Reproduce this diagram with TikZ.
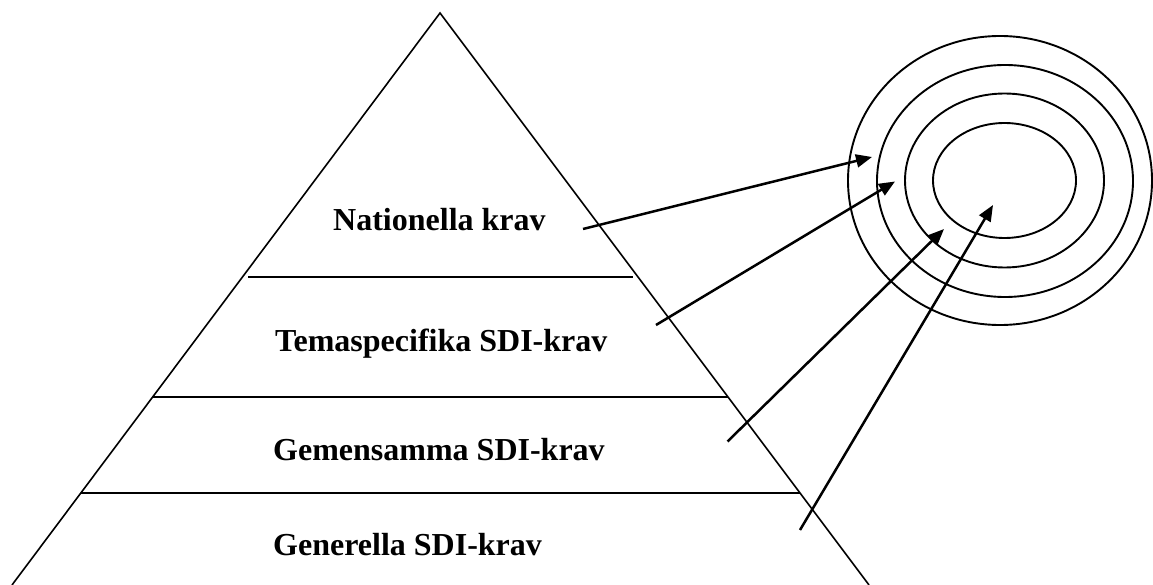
\documentclass[tikz,border=0pt]{standalone}
\usepackage{fontspec}
\setmainfont{Liberation Serif}
\usetikzlibrary{arrows.meta}
\begin{document}
\begin{tikzpicture}[x=1pt,y=-1pt,
  edge/.style={line width=1.6pt},
  layer/.style={line width=2.2pt},
  ring/.style={line width=1.9pt},
  pointer/.style={line width=2.5pt,-{Triangle[length=16pt,width=13pt]}},
  label/.style={anchor=base west,inner sep=0pt,font=\fontsize{32}{38}\selectfont\bfseries}]
\useasboundingbox (0,0) rectangle (1153,585);
% pyramid
\coordinate (apex) at (440,13);
\coordinate (bl) at (12,585);
\coordinate (br) at (869,585);
\draw[edge] (bl) -- (apex) -- (br);
\coordinate (l1a) at (248,277); \coordinate (l1b) at (633,277);
\coordinate (l2a) at (153,397); \coordinate (l2b) at (728,397);
\coordinate (l3a) at (81,493);  \coordinate (l3b) at (800,493);
\draw[layer] (l1a) -- (l1b);
\draw[layer] (l2a) -- (l2b);
\draw[layer] (l3a) -- (l3b);
% labels
\node[label] (nat) at (333,230.7) {Nationella krav};
\node[label] (tema) at (275,351.7) {Temaspecifika SDI-krav};
\node[label] (gem) at (273,460) {Gemensamma SDI-krav};
\node[label] (gen) at (273,555) {Generella SDI-krav};
% target rings
\coordinate (c1) at (1000,180.5);
\coordinate (c2) at (1005,181);
\coordinate (c3) at (1004.5,180.5);
\coordinate (c4) at (1004.5,180.5);
\draw[ring] (c1) ellipse [x radius=152, y radius=144.5];
\draw[ring] (c2) ellipse [x radius=128, y radius=116];
\draw[ring] (c3) ellipse [x radius=99.5, y radius=87];
\draw[ring] (c4) ellipse [x radius=71.5, y radius=57.5];
% arrows
\coordinate (s1) at (583,229);   \coordinate (t1) at (872,157);
\coordinate (s2) at (656,325);   \coordinate (t2) at (895,181.5);
\coordinate (s3) at (727.5,441.5); \coordinate (t3) at (944,229);
\coordinate (s4) at (800,530);   \coordinate (t4) at (993,205);
\draw[pointer] (s1) -- (t1);
\draw[pointer] (s2) -- (t2);
\draw[pointer] (s3) -- (t3);
\draw[pointer] (s4) -- (t4);
\end{tikzpicture}
\end{document}
